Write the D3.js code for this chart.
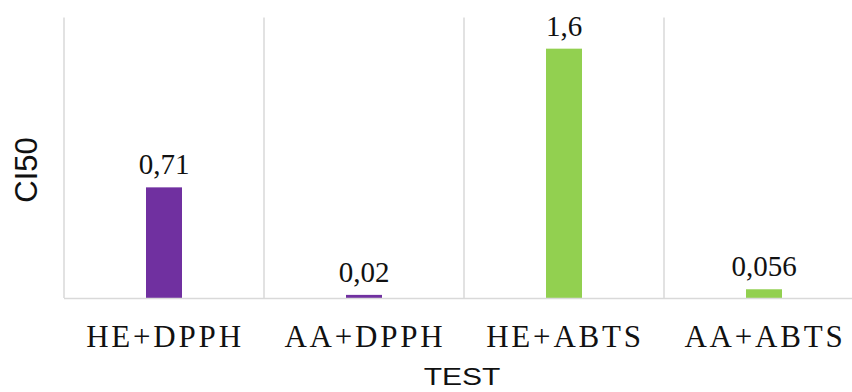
<!DOCTYPE html>
<html>
<head>
<meta charset="utf-8">
<script src="https://d3js.org/d3.v7.min.js"></script>
<style>
  body { margin: 0; background: #fff; }
  .serif { font-family: "Liberation Serif", "DejaVu Serif", serif; }
  .sans { font-family: "Liberation Sans", Arial, sans-serif; }
</style>
</head>
<body>
<div id="chart"></div>
<script>
  const w = 852, h = 392
  const categories = ["HE+DPPH", "AA+DPPH", "HE+ABTS", "AA+ABTS"]
  const values = [0.71, 0.02, 1.6, 0.056]
  const valueLabels = ["0,71", "0,02", "1,6", "0,056"]
  const barColors = ["#7030A0", "#7030A0", "#92D050", "#92D050"]

  const plotLeft = 64, plotRight = 864, plotTop = 17.5, plotBottom = 298

  const x = d3.scaleBand()
    .domain(categories)
    .range([plotLeft, plotRight])
    .paddingInner(0.82)
    .paddingOuter(0.41)

  const y = d3.scaleLinear()
    .domain([0, 1.8])
    .range([plotBottom, plotTop])

  const svg = d3.select("#chart").append("svg")
    .attr("width", w)
    .attr("height", h)

  // vertical category separators
  const step = x.step()
  const edges = categories.map((c, i) => plotLeft + i * step)
  svg.append("g").selectAll("line")
    .data(edges)
    .enter().append("line")
      .attr("x1", d => d).attr("x2", d => d)
      .attr("y1", plotTop).attr("y2", plotBottom)
      .attr("stroke", "#d9d9d9")
      .attr("stroke-width", 1.5)

  // bars
  svg.append("g").selectAll("rect")
    .data(categories)
    .enter().append("rect")
      .attr("x", d => x(d))
      .attr("width", x.bandwidth())
      .attr("y", (d, i) => y(values[i]))
      .attr("height", (d, i) => y(0) - y(values[i]))
      .attr("fill", (d, i) => barColors[i])

  // baseline
  svg.append("line")
    .attr("x1", plotLeft).attr("x2", plotRight)
    .attr("y1", y(0) + 0.5).attr("y2", y(0) + 0.5)
    .attr("stroke", "#d9d9d9")
    .attr("stroke-width", 1.5)

  // value labels
  svg.append("g").selectAll("text")
    .data(categories)
    .enter().append("text")
      .attr("class", "serif")
      .attr("x", d => x(d) + x.bandwidth() / 2)
      .attr("y", (d, i) => y(values[i]) - 13)
      .attr("text-anchor", "middle")
      .style("font-size", "29px")
      .attr("fill", "#111")
      .text((d, i) => valueLabels[i])

  // category labels
  svg.append("g").selectAll("text")
    .data(categories)
    .enter().append("text")
      .attr("class", "serif")
      .attr("x", d => x(d) + x.bandwidth() / 2 + 1)
      .attr("y", 347)
      .attr("text-anchor", "middle")
      .style("font-size", "31px")
      .style("letter-spacing", "2.8px")
      .attr("fill", "#111")
      .text(d => d)

  // axis titles
  svg.append("text")
    .attr("class", "sans")
    .attr("transform", "translate(462,385) scale(1.25,1)")
    .attr("text-anchor", "middle")
    .style("font-size", "24px")
    .attr("fill", "#111")
    .text("TEST")

  svg.append("text")
    .attr("class", "sans")
    .attr("transform", "translate(37,170) rotate(-90)")
    .attr("text-anchor", "middle")
    .style("font-size", "31px")
    .attr("fill", "#111")
    .text("CI50")
</script>
</body>
</html>
